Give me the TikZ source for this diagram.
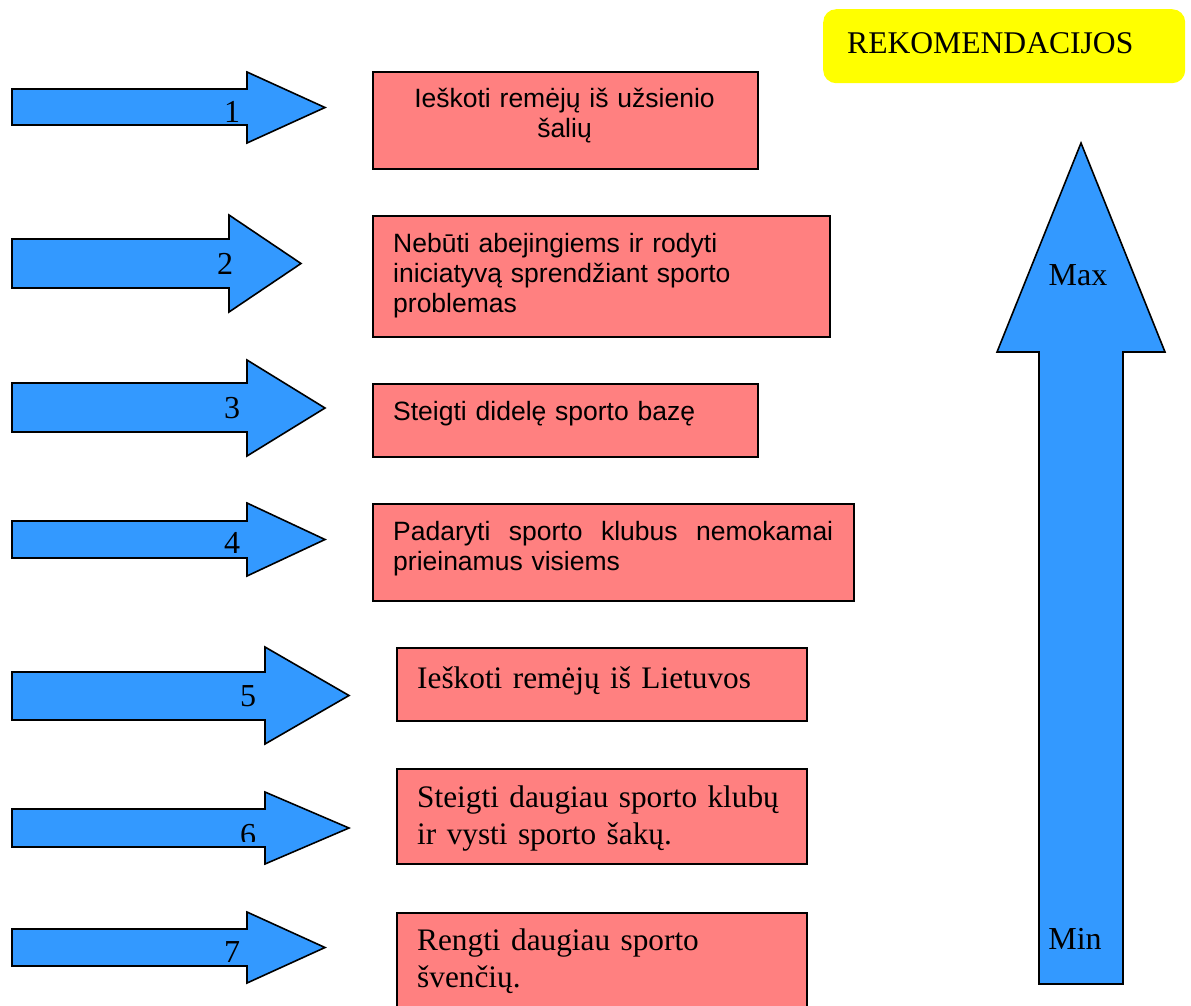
\documentclass[tikz,border=0pt]{standalone}
\usepackage{fontspec}
\setmainfont{Liberation Serif}
\setsansfont{Liberation Sans}
\definecolor{arrowblue}{HTML}{3399FF}
\definecolor{boxpink}{HTML}{FF8080}
\definecolor{titleyellow}{HTML}{FFFF00}

% horizontal block arrow: shaft top, shaft bottom, head base x, head top, head bottom, tip x
\newcommand{\rightblock}[6]{%
  \draw[blockarrow] (12,#1) -- (#3,#1) -- (#3,#4) -- (#6,{(#4+#5)/2}) -- (#3,#5) -- (#3,#2) -- (12,#2) -- cycle;}

\begin{document}
\begin{tikzpicture}[x=1pt,y=-1pt,
  blockarrow/.style={draw=black, line width=1.6pt, fill=arrowblue, line join=miter},
  pinkbox/.style={draw=black, line width=1.6pt, fill=boxpink, inner sep=0pt, anchor=north west},
  sanstext/.style={font=\sffamily\fontsize{26.5}{30}\selectfont, inner sep=0pt, anchor=base west, align=left, text width=440pt},
  seriftext/.style={font=\fontsize{31.3}{37.5}\selectfont, inner sep=0pt, anchor=base west, align=left, text width=385pt},
  numtext/.style={font=\fontsize{32}{32}\selectfont, inner sep=0pt, anchor=base},
]
\clip (0,0) rectangle (1191,1005);
\fill[white] (0,0) rectangle (1191,1005);

% title
\node[fill=titleyellow, rounded corners=13pt, anchor=north west, minimum width=362pt, minimum height=74pt, inner sep=0pt] (rek) at (823,9) {};
\node[font=\fontsize{31.6}{32}\selectfont, inner sep=0pt, anchor=base west] (rekt) at (847,53) {REKOMENDACIJOS};

% priority arrows on the left
\rightblock{89}{125}{247}{72}{143}{325}
\rightblock{239}{288}{229}{215}{312}{301}
\rightblock{383}{432}{247}{360}{456}{325}
\rightblock{521}{558}{247}{503}{576}{325}
\rightblock{672}{720}{265}{647}{744}{349}
\rightblock{809}{847}{265}{792}{864}{349}
\rightblock{929}{966}{247}{912}{983}{325}

\node[numtext] (n1) at (232,122) {1};
\node[numtext] (n2) at (225,274) {2};
\node[numtext] (n3) at (232,418) {3};
\node[numtext] (n4) at (232,553) {4};
\node[numtext] (n5) at (248,706) {5};
\begin{scope}
  \clip (0,0) rectangle (1191,841);
  \node[numtext] (n6) at (248,845) {6};
\end{scope}
\node[numtext] (n7) at (232,962) {7};

% recommendation boxes
\node[pinkbox, minimum width=385pt, minimum height=97pt] (b1) at (372,71) {};
\node[sanstext, anchor=base, align=center, text width=385pt] (t1) at (564.5,107) {Ieškoti remėjų iš užsienio\\šalių};

\node[pinkbox, minimum width=457pt, minimum height=121pt] (b2) at (372,215) {};
\node[sanstext] (t2) at (393,252) {Nebūti abejingiems ir rodyti\\iniciatyvą sprendžiant sporto\\problemas};

\node[pinkbox, minimum width=385pt, minimum height=73pt] (b3) at (372,383) {};
\node[sanstext] (t3) at (393,420) {Steigti didelę sporto bazę};

\node[pinkbox, minimum width=481pt, minimum height=97pt] (b4) at (372,503) {};
\node[sanstext] (t4) at (393,540) {\hbox to 440pt{Padaryti\hfill sporto\hfill klubus\hfill nemokamai}\\prieinamus visiems};

\node[pinkbox, minimum width=410pt, minimum height=73pt] (b5) at (396,647) {};
\node[seriftext] (t5) at (417,688) {Ieškoti remėjų iš Lietuvos};

\node[pinkbox, minimum width=410pt, minimum height=95pt] (b6) at (396,768) {};
\node[seriftext] (t6) at (417,807) {Steigti daugiau sporto klubų\\ir vysti sporto šakų.};

\node[pinkbox, minimum width=410pt, minimum height=100pt] (b7) at (396,912) {};
\node[seriftext] (t7) at (417,950) {Rengti daugiau sporto\\švenčių.};

% vertical scale arrow
\draw[blockarrow] (1039,984) -- (1039,352) -- (997,352) -- (1081,143) -- (1165,352) -- (1123,352) -- (1123,984) -- cycle;
\node[numtext] (max) at (1078,285) {Max};
\node[numtext] (min) at (1075,949) {Min};
\end{tikzpicture}
\end{document}
